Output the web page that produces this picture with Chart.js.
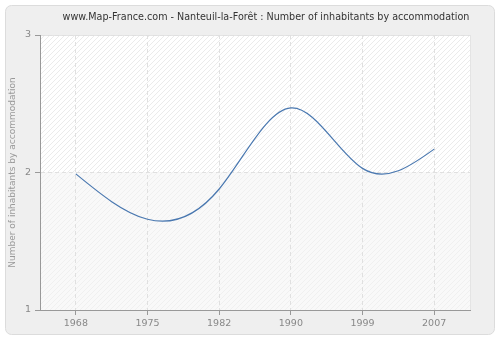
<!DOCTYPE html>
<html>
<head>
<meta charset="utf-8">
<script src="https://cdn.jsdelivr.net/npm/chart.js@4/dist/chart.umd.min.js"></script>
<style>
  html, body { margin: 0; padding: 0; background: #fff; }
  #wrap { width: 500px; height: 340px; }
</style>
</head>
<body>
<div id="wrap"><canvas id="chart" width="500" height="340"></canvas></div>
<script>
// Data
const years = ['1968', '1975', '1982', '1990', '1999', '2007'];
const inhabitants = [1.99, 1.66, 1.88, 2.47, 2.03, 2.17];
const yTicks = [1, 2, 3];

const titleText = 'www.Map-France.com - Nanteuil-la-Forêt : Number of inhabitants by accommodation';
const fontFamily = "'DejaVu Sans', Verdana, sans-serif";

// hatch pattern for the plot background
function makeHatch(bg, line) {
    const c = document.createElement('canvas');
    c.width = 5; c.height = 5;
    const g = c.getContext('2d');
    g.fillStyle = bg;
    g.fillRect(0, 0, 5, 5);
    g.strokeStyle = line;
    g.lineWidth = 1;
    g.beginPath();
    g.moveTo(0, 5); g.lineTo(5, 0);
    g.moveTo(-2.5, 2.5); g.lineTo(2.5, -2.5);
    g.moveTo(2.5, 7.5); g.lineTo(7.5, 2.5);
    g.stroke();
    return c;
}

const backgroundPlugin = {
    id: 'background',
    beforeDraw(chart) {
        const ctx = chart.ctx;
        const area = chart.chartArea;
        const y = chart.scales.y;
        ctx.save();
        // outer panel
        ctx.fillStyle = '#ffffff';
        ctx.fillRect(0, 0, chart.width, chart.height);
        ctx.beginPath();
        ctx.roundRect(5.5, 5.5, chart.width - 11, chart.height - 11, 6);
        ctx.fillStyle = '#efefef';
        ctx.fill();
        ctx.strokeStyle = '#dcdcdc';
        ctx.lineWidth = 1;
        ctx.stroke();

        // plot area: hatched upper band, lighter lower band
        const mid = y.getPixelForValue(2);
        ctx.fillStyle = ctx.createPattern(makeHatch('#ffffff', '#ebebeb'), 'repeat');
        ctx.fillRect(area.left, area.top, area.width, mid - area.top);
        ctx.fillStyle = ctx.createPattern(makeHatch('#f9f9f9', '#f0f0f0'), 'repeat');
        ctx.fillRect(area.left, mid, area.width, area.bottom - mid);
        ctx.strokeStyle = '#e4e4e4';
        ctx.strokeRect(area.left + 0.5, area.top + 0.5, area.width, area.height);

        // title
        ctx.fillStyle = '#333333';
        ctx.font = '9.6px ' + fontFamily;
        ctx.textAlign = 'center';
        ctx.textBaseline = 'middle';
        ctx.fillText(titleText, 266, 17);
        ctx.restore();
    }
};

// Replace Chart.js bezier control points with a natural cubic spline
// computed from the points' own pixel positions.
const naturalSplinePlugin = {
    id: 'naturalSpline',
    beforeDatasetDraw(chart, args) {
        const line = args.meta.dataset;
        const pts = args.meta.data;
        const n = pts.length;
        if (!line || n < 3) return;
        line.updateControlPoints(chart.chartArea, 'x');

        const h = [];
        for (let i = 0; i < n - 1; i++) h.push(pts[i + 1].x - pts[i].x);
        // solve for second derivatives M (M0 = Mn-1 = 0)
        const a = new Array(n).fill(0), b = new Array(n).fill(1), c = new Array(n).fill(0), d = new Array(n).fill(0);
        for (let i = 1; i < n - 1; i++) {
            a[i] = h[i - 1];
            b[i] = 2 * (h[i - 1] + h[i]);
            c[i] = h[i];
            d[i] = 6 * ((pts[i + 1].y - pts[i].y) / h[i] - (pts[i].y - pts[i - 1].y) / h[i - 1]);
        }
        for (let i = 1; i < n; i++) {
            const w = a[i] / b[i - 1];
            b[i] -= w * c[i - 1];
            d[i] -= w * d[i - 1];
        }
        const M = new Array(n).fill(0);
        M[n - 1] = d[n - 1] / b[n - 1];
        for (let i = n - 2; i >= 0; i--) M[i] = (d[i] - c[i] * M[i + 1]) / b[i];
        M[0] = 0; M[n - 1] = 0;

        // slopes at each knot
        const slope = [];
        for (let i = 0; i < n - 1; i++) {
            slope[i] = (pts[i + 1].y - pts[i].y) / h[i] - h[i] * (2 * M[i] + M[i + 1]) / 6;
        }
        slope[n - 1] = (pts[n - 1].y - pts[n - 2].y) / h[n - 2] + h[n - 2] * (M[n - 2] + 2 * M[n - 1]) / 6;

        for (let i = 0; i < n; i++) {
            const p = pts[i];
            if (i > 0) {
                const hh = h[i - 1] / 3;
                p.cp1x = p.x - hh;
                p.cp1y = p.y - slope[i] * hh;
            }
            if (i < n - 1) {
                const hh = h[i] / 3;
                p.cp2x = p.x + hh;
                p.cp2y = p.y + slope[i] * hh;
            }
        }
        line._path = undefined;
    }
};

new Chart(document.getElementById('chart'), {
    type: 'line',
    data: {
        labels: years,
        datasets: [{
            data: inhabitants,
            borderColor: '#4a78b0',
            borderWidth: 1.2,
            pointRadius: 0,
            tension: 0.4,
            fill: false
        }]
    },
    options: {
        responsive: false,
        animation: false,
        events: [],
        layout: { padding: { left: 7, right: 30, top: 35, bottom: 0 } },
        plugins: {
            legend: { display: false },
            tooltip: { enabled: false },
            title: { display: false }
        },
        scales: {
            x: {
                type: 'category',
                offset: true,
                afterFit: s => { s.height = 30; },
                grid: {
                    offset: false,
                    color: '#e0e0e0',
                    tickLength: 5,
                    tickColor: '#999',
                    tickBorderDash: [],
                    drawOnChartArea: true
                },
                border: { color: '#999', width: 1, dash: [4, 3] },
                ticks: {
                    color: '#888',
                    font: { family: fontFamily, size: 9.5 },
                    padding: 3,
                    maxRotation: 0
                }
            },
            y: {
                min: 1,
                max: 3,
                afterFit: s => { s.width = 33; },
                afterBuildTicks: s => { s.ticks = yTicks.map(v => ({ value: v })); },
                grid: {
                    color: '#e0e0e0',
                    tickLength: 5,
                    tickColor: '#999',
                    tickBorderDash: []
                },
                border: { color: '#999', width: 1, dash: [4, 3] },
                ticks: {
                    color: '#888',
                    font: { family: fontFamily, size: 9.5 },
                    padding: 4
                },
                title: {
                    display: true,
                    text: 'Number of inhabitants by accommodation',
                    color: '#999',
                    font: { family: fontFamily, size: 9 },
                    padding: { top: 0, bottom: 2 }
                }
            }
        }
    },
    plugins: [backgroundPlugin, naturalSplinePlugin]
});
</script>
</body>
</html>
